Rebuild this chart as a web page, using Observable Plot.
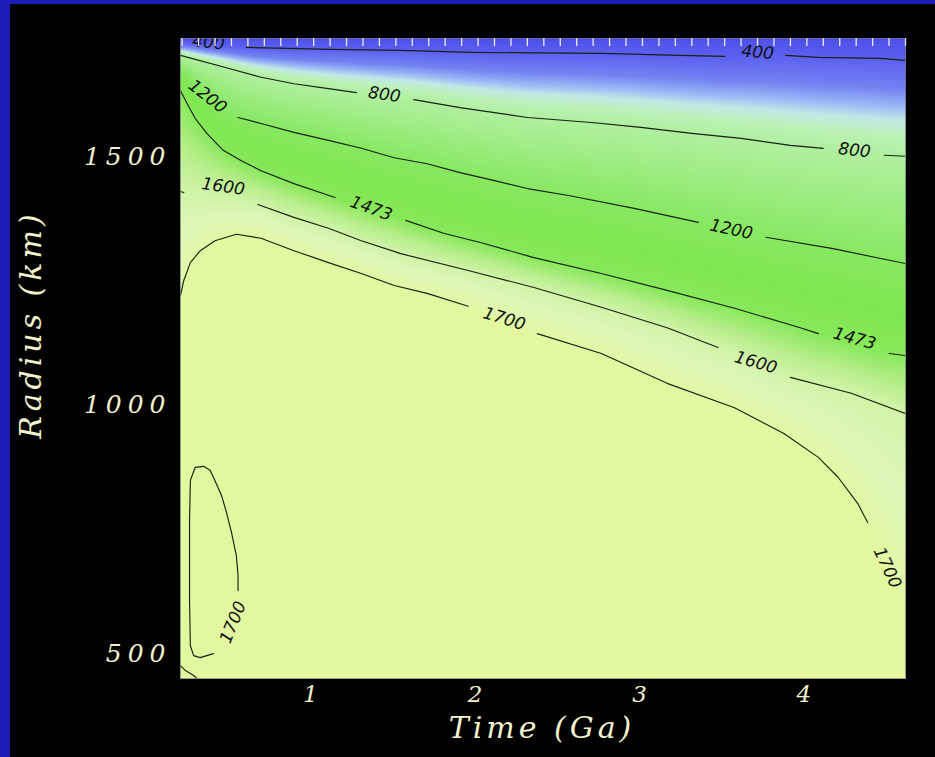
<!DOCTYPE html>
<html>
<head>
<meta charset="utf-8">
<script src="https://cdn.jsdelivr.net/npm/d3@7"></script>
<script src="https://cdn.jsdelivr.net/npm/@observablehq/plot@0.6"></script>
<style>
  html, body { margin: 0; padding: 0; width: 935px; height: 757px; overflow: hidden; background: #1b1bb8; }
  #black { position: absolute; left: 10px; top: 4px; width: 925px; height: 753px; background: #000; }
  #chart { position: absolute; left: 0; top: 0; }
  g[aria-label="x-axis tick label"], g[aria-label="y-axis tick label"] { letter-spacing: 6px; }
  g[aria-label="text"][font-size="30"] { letter-spacing: 4px; }
  g[aria-label="text"][font-size="17"] { letter-spacing: 3.5px; }
</style>
</head>
<body>
<div id="black"></div>
<div id="chart"></div>
<script>
// ---- axes ----
const timeDomain = [0.19, 4.6];      // Ga
const radiusDomain = [450, 1738];    // km
const timeTicks = [1, 2, 3, 4];
const radiusTicks = [500, 1000, 1500];
const topTicks = d3.range(2, 47).map(i => i / 10);

// ---- surface boundary ----
const surfaceRadius = 1738;
const surfaceTemperature = 250;
const interiorTemperature = 1750;

// ---- contour levels (K) and their traced curves [time Ga, radius km]; null = gap (label) ----
const contourLevels = [400, 800, 1200, 1473, 1600, 1700];

const c400 = [
  [0.19, 1730], null,
  [0.59, 1720], [1.10, 1716], [1.53, 1714], [1.96, 1710], [2.75, 1708], [3.23, 1704], [3.50, 1702], null,
  [3.87, 1704], [4.07, 1700], [4.45, 1698], [4.60, 1694]
];
const c800 = [
  [0.19, 1704], [0.48, 1678], [0.68, 1660], [0.88, 1647], [1.09, 1637], [1.26, 1629], null,
  [1.61, 1615], [1.89, 1599], [2.30, 1579], [2.69, 1569], [2.99, 1559], [3.30, 1547], [3.60, 1537], [3.90, 1523], [4.10, 1517], null,
  [4.47, 1503], [4.60, 1501]
];
const c1200 = [
  [0.19, 1674], null, [0.31, 1637], null, [0.43, 1603], null,
  [0.54, 1579], [0.68, 1567], [0.88, 1549], [1.09, 1533], [1.29, 1517], [1.49, 1498], [1.69, 1486], [1.89, 1468],
  [2.10, 1452], [2.30, 1436], [2.55, 1422], [2.95, 1396], [3.34, 1368], null,
  [3.75, 1338], [4.16, 1315], [4.60, 1285]
];
const c1473 = [
  [0.19, 1633], [0.23, 1607], [0.28, 1577], [0.35, 1547], [0.45, 1513], [0.56, 1492], [0.68, 1472], [0.88, 1446], [1.13, 1418], null,
  [1.56, 1372], [1.79, 1346], [2.02, 1327], [2.34, 1297], [2.75, 1265], [3.15, 1231], [3.56, 1195], [3.96, 1156], [4.07, 1144], null,
  [4.50, 1104], [4.60, 1100]
];
const c1600 = [
  [0.19, 1430], [0.21, 1428], null,
  [0.66, 1404], [0.88, 1378], [1.09, 1356], [1.29, 1331], [1.53, 1305], [1.94, 1271], [2.34, 1237], [2.75, 1197],
  [3.15, 1156], [3.46, 1116], null,
  [3.90, 1056], [4.27, 1024], [4.60, 983]
];
const c1700 = [
  [0.19, 1221], [0.21, 1251], [0.25, 1287], [0.31, 1311], [0.40, 1331], [0.53, 1344], [0.68, 1336], [0.88, 1311],
  [1.09, 1287], [1.29, 1265], [1.49, 1241], [1.69, 1225], [1.94, 1199], null,
  [2.36, 1144], [2.75, 1104], [3.15, 1044], [3.56, 995], [3.86, 943], [4.07, 895], [4.19, 855], [4.31, 802], [4.37, 764], null,
  [4.60, 607]
];
const loop1700 = [
  [0.54, 627], [0.54, 657], [0.53, 697], [0.50, 744], [0.47, 784], [0.44, 818], [0.40, 848], [0.37, 869], [0.33, 877],
  [0.28, 875], [0.25, 849], [0.245, 768], [0.245, 607], [0.25, 516], [0.27, 496], [0.31, 492], [0.39, 500]
];
const cornerLine = [[0.19, 476], [0.22, 466], [0.27, 456], [0.29, 450]];

const contourCurves = [c400, c800, c1200, c1473, c1600, c1700];

// ---- contour labels ----
const labelText   = ["400", "400", "800", "800", "1200", "1200", "1473", "1473", "1600", "1600", "1700", "1700", "1700"];
const labelTime   = [0.36, 3.70, 1.43, 4.29, 0.355, 3.54, 1.35, 4.29, 0.45, 3.69, 2.16, 4.49, 0.51];
const labelRadius = [1730, 1710, 1625, 1513, 1621, 1354, 1396, 1134, 1440, 1086, 1174, 673, 563];
const labelAngle  = [6, 5, 8, 6, 38, 12, 20, 16, 8, 16, 17, 65, -68];

// ---- colour map (temperature K -> colour) ----
const colorTemps = [250, 400, 520, 600, 650, 720, 800, 1000, 1200, 1350, 1473, 1540, 1600, 1645, 1700, 1750];
const colorHex = ["#4e50e8", "#5c60f0", "#7282f2", "#9ebcf6", "#c2e8e6", "#bcf2b6", "#b0f0a0", "#9cec80",
                  "#88e862", "#7ee850", "#88e85a", "#b6ee8a", "#d2f4aa", "#def6b8", "#e2f8a6", "#e2f8a0"];

// ---- build line rows (segments of >= 2 points are drawn) ----
const lineRows = [];
let seg = 0;
for (const curve of [...contourCurves, loop1700, cornerLine]) {
  let cur = [];
  const flush = () => { if (cur.length >= 2) { for (const p of cur) lineRows.push({t: p[0], r: p[1], seg}); } seg++; cur = []; };
  for (const p of curve) { if (p === null) flush(); else cur.push(p); }
  flush();
}
const labelRows = labelText.map((s, i) => ({label: s, t: labelTime[i], r: labelRadius[i], angle: labelAngle[i]}));

// ---- temperature field from the traced contours ----
const cleanCurves = contourCurves.map(c => c.filter(Boolean));
function radiusAt(p, t) {
  if (t <= p[0][0]) return p[0][1];
  for (let i = 1; i < p.length; i++) {
    if (t <= p[i][0]) {
      const [t0, r0] = p[i - 1], [t1, r1] = p[i];
      return r0 + (r1 - r0) * (t - t0) / (t1 - t0);
    }
  }
  return p[p.length - 1][1];
}
let lastT = NaN, lastRadii = null;
function temperatureAt(t, r) {
  if (t !== lastT) { lastT = t; lastRadii = cleanCurves.map(c => radiusAt(c, t)); }
  let rPrev = surfaceRadius, TPrev = surfaceTemperature;
  for (let k = 0; k < contourLevels.length; k++) {
    const rk = lastRadii[k], Tk = contourLevels[k];
    if (r >= rk) {
      if (rPrev - rk < 1e-6) return Tk;
      return TPrev + (Tk - TPrev) * (rPrev - r) / (rPrev - rk);
    }
    rPrev = rk; TPrev = Tk;
  }
  return interiorTemperature;
}

const textColor = "#f2f2cc";
const plot = Plot.plot({
  width: 935,
  height: 757,
  marginLeft: 180,
  marginRight: 30,
  marginTop: 38,
  marginBottom: 79,
  style: {background: "transparent", fontFamily: "DejaVu Serif", overflow: "visible"},
  x: {domain: timeDomain},
  y: {domain: radiusDomain},
  color: {type: "linear", domain: colorTemps, range: colorHex, interpolate: "rgb", clamp: true},
  marks: [
    Plot.raster({fill: temperatureAt, x1: timeDomain[0], x2: timeDomain[1], y1: radiusDomain[0], y2: radiusDomain[1]}),
    Plot.line(lineRows, {x: "t", y: "r", z: "seg", stroke: "#17220f", strokeWidth: 1.15, clip: true}),
    Plot.text(labelRows, {x: "t", y: "r", text: "label", rotate: "angle", fontFamily: "DejaVu Sans", fontStyle: "italic",
      fontSize: 17, fill: "#111", clip: true}),
    Plot.ruleX(topTicks, {stroke: "#ffffff", strokeWidth: 1.3, strokeOpacity: 0.9, insetBottom: 632}),
    Plot.frame({stroke: "#d8d8f4", strokeOpacity: 0.35}),
    Plot.axisX(timeTicks, {anchor: "bottom", tickSize: 0, tickPadding: 7, fontSize: 23, fontFamily: "DejaVu Serif",
      fontStyle: "italic", color: textColor, label: null, tickFormat: d => String(d)}),
    Plot.axisY(radiusTicks, {anchor: "left", tickSize: 0, tickPadding: 9, fontSize: 25, fontFamily: "DejaVu Serif",
      fontStyle: "italic", color: textColor, label: null, tickFormat: d => String(d)}),
    Plot.text(["Time (Ga)"], {frameAnchor: "bottom", textAnchor: "middle", lineAnchor: "middle", dy: 50, dx: -1,
      fontSize: 30, fontFamily: "DejaVu Serif", fontStyle: "italic", fill: textColor}),
    Plot.text(["Radius (km)"], {frameAnchor: "left", textAnchor: "middle", lineAnchor: "middle", rotate: -90,
      dx: -149, dy: -34, fontSize: 30, fontFamily: "DejaVu Serif", fontStyle: "italic", fill: textColor})
  ]
});
document.getElementById("chart").appendChild(plot);
</script>
</body>
</html>
